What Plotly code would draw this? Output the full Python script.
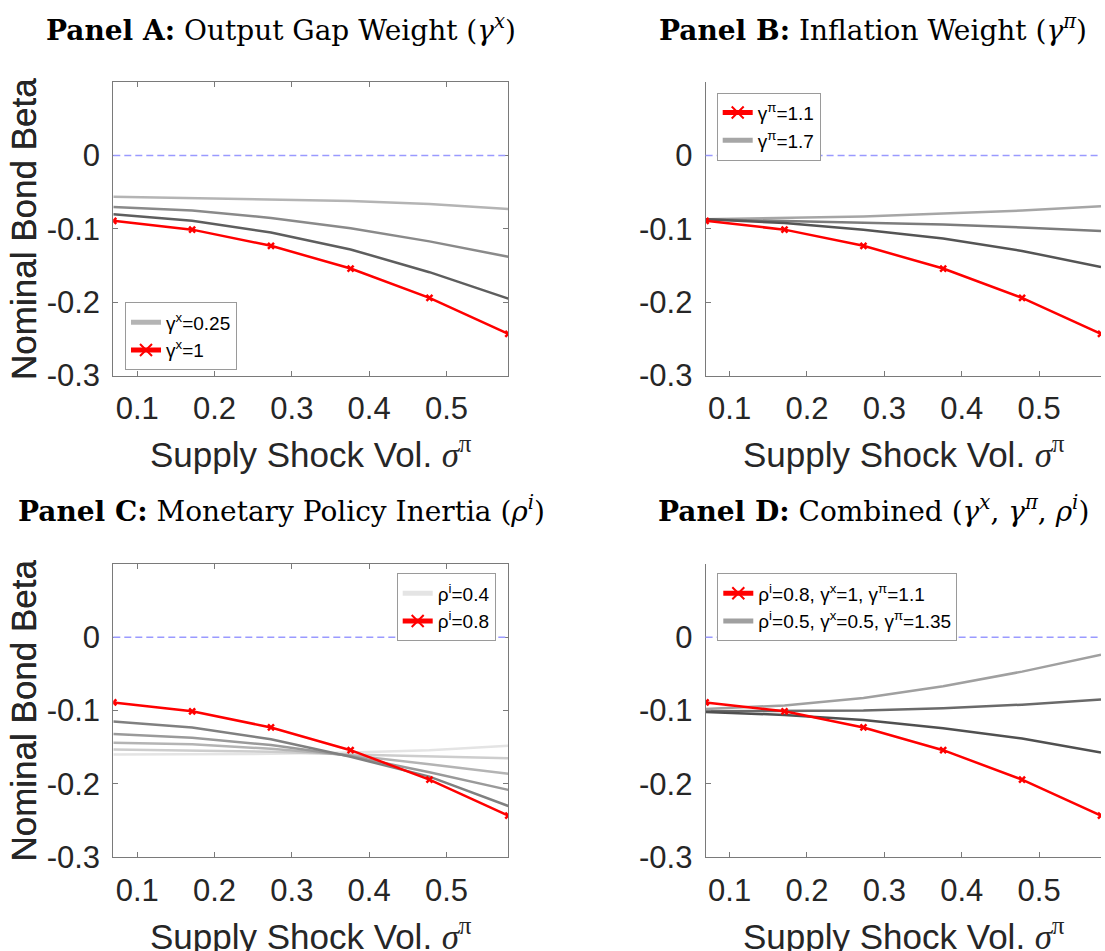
import plotly.graph_objects as go
from plotly.subplots import make_subplots

# Supply shock volatility grid (x axis shared by all panels)
sigma_pi = [0.069, 0.171, 0.273, 0.376, 0.478, 0.58]

# Baseline calibration: rho_i=0.8, gamma_x=1, gamma_pi=1.1
beta_base = [-0.089, -0.101, -0.123, -0.154, -0.194, -0.243]

# Panel A: output gap weight
beta_gx_025 = [-0.056, -0.058, -0.060, -0.062, -0.066, -0.073]
beta_gx_050 = [-0.070, -0.075, -0.085, -0.099, -0.117, -0.138]
beta_gx_075 = [-0.080, -0.089, -0.105, -0.128, -0.159, -0.195]

# Panel B: inflation weight
beta_gp_17 = [-0.087, -0.085, -0.083, -0.079, -0.075, -0.069]
beta_gp_15 = [-0.087, -0.089, -0.091, -0.094, -0.098, -0.103]
beta_gp_13 = [-0.087, -0.092, -0.101, -0.113, -0.130, -0.152]

# Panel C: policy inertia
beta_ri_04 = [-0.160, -0.160, -0.159, -0.157, -0.154, -0.148]
beta_ri_05 = [-0.153, -0.154, -0.156, -0.160, -0.163, -0.165]
beta_ri_06 = [-0.144, -0.146, -0.152, -0.161, -0.173, -0.186]
beta_ri_07 = [-0.132, -0.137, -0.147, -0.162, -0.184, -0.208]
beta_ri_075 = [-0.115, -0.123, -0.139, -0.163, -0.190, -0.230]

# Panel D: combined rule
beta_mix_lo = [-0.098, -0.093, -0.083, -0.067, -0.047, -0.024]
beta_mix_mid = [-0.101, -0.101, -0.100, -0.097, -0.092, -0.085]
beta_mix_hi = [-0.102, -0.106, -0.113, -0.124, -0.138, -0.157]

x_ticks = [0.1, 0.2, 0.3, 0.4, 0.5]
x_ticktext = ["0.1", "0.2", "0.3", "0.4", "0.5"]
y_ticks = [-0.3, -0.2, -0.1, 0.0]
y_ticktext = ["-0.3", "-0.2", "-0.1", "0"]

panel_titles = [
    "<b>Panel A:</b> Output Gap Weight (<i>γ</i><sup><i>x</i></sup>)",
    "<b>Panel B:</b> Inflation Weight (<i>γ</i><sup><i>π</i></sup>)",
    "<b>Panel C:</b> Monetary Policy Inertia (<i>ρ</i><sup><i>i</i></sup>)",
    "<b>Panel D:</b> Combined (<i>γ</i><sup><i>x</i></sup>, <i>γ</i><sup><i>π</i></sup>, <i>ρ</i><sup><i>i</i></sup>)",
]
y_title = "Nominal Bond Beta"
x_title = "Supply Shock Vol. <span style='font-family:Liberation Serif'><i>σ</i><sup>π</sup></span>"

W, H = 1105, 951          # frame used for positioning
FIG_H = 968               # figure height
RED = "#ff0000"
SANS = "Liberation Sans"
SERIF = "DejaVu Serif"

fig = make_subplots(rows=2, cols=2)

# plot-area rectangles in pixels: (left, right, top, bottom)
boxes = {
    (1, 1): (113.3, 508.3, 82.3, 376.0),
    (1, 2): (705.6, 1101.0, 82.3, 376.0),
    (2, 1): (113.3, 508.3, 564.3, 858.3),
    (2, 2): (705.6, 1101.0, 564.3, 858.3),
}
legend_names = {(1, 1): "legend", (1, 2): "legend2", (2, 1): "legend3", (2, 2): "legend4"}
legend_pos = {(1, 1): (125, 302.7), (1, 2): (716.7, 92.7), (2, 1): (396.7, 574.0), (2, 2): (717.3, 574.0)}


def gray_line(y, color, name, row, col, show=False, rank=2):
    fig.add_trace(go.Scatter(
        x=sigma_pi, y=y, mode="lines", name=name,
        line=dict(color=color, width=2.5),
        showlegend=show, legend=legend_names[(row, col)], legendrank=rank,
    ), row=row, col=col)


def red_line(name, row, col, rank):
    fig.add_trace(go.Scatter(
        x=sigma_pi, y=beta_base, mode="lines+markers", name=name,
        line=dict(color=RED, width=2.5),
        marker=dict(symbol="x-thin", size=6, line=dict(color=RED, width=2.5)),
        legend=legend_names[(row, col)], legendrank=rank,
    ), row=row, col=col)


# Panel A
gray_line(beta_gx_025, "#b4b4b4", "γ<sup>x</sup>=0.25", 1, 1, show=True, rank=1)
gray_line(beta_gx_050, "#8a8a8a", "γ<sup>x</sup>=0.5", 1, 1)
gray_line(beta_gx_075, "#5e5e5e", "γ<sup>x</sup>=0.75", 1, 1)
red_line("γ<sup>x</sup>=1", 1, 1, rank=2)

# Panel B
gray_line(beta_gp_17, "#a6a6a6", "γ<sup>π</sup>=1.7", 1, 2, show=True, rank=2)
gray_line(beta_gp_15, "#7c7c7c", "γ<sup>π</sup>=1.5", 1, 2)
gray_line(beta_gp_13, "#555555", "γ<sup>π</sup>=1.3", 1, 2)
red_line("γ<sup>π</sup>=1.1", 1, 2, rank=1)

# Panel C
gray_line(beta_ri_04, "#e4e4e4", "ρ<sup>i</sup>=0.4", 2, 1, show=True, rank=1)
gray_line(beta_ri_05, "#cdcdcd", "ρ<sup>i</sup>=0.5", 2, 1)
gray_line(beta_ri_06, "#b4b4b4", "ρ<sup>i</sup>=0.6", 2, 1)
gray_line(beta_ri_07, "#9a9a9a", "ρ<sup>i</sup>=0.7", 2, 1)
gray_line(beta_ri_075, "#808080", "ρ<sup>i</sup>=0.75", 2, 1)
red_line("ρ<sup>i</sup>=0.8", 2, 1, rank=2)

# Panel D
gray_line(beta_mix_lo, "#a0a0a0", "ρ<sup>i</sup>=0.5, γ<sup>x</sup>=0.5, γ<sup>π</sup>=1.35", 2, 2, show=True, rank=2)
gray_line(beta_mix_mid, "#6a6a6a", "mid", 2, 2)
gray_line(beta_mix_hi, "#505050", "high", 2, 2)
red_line("ρ<sup>i</sup>=0.8, γ<sup>x</sup>=1, γ<sup>π</sup>=1.1", 2, 2, rank=1)

axis_line = "#7a7a7a"
tick_font = dict(family=SANS, size=31, color="#262626")
annotations = []
layout_extra = {}

for (row, col), (l, r, t, b) in boxes.items():
    boxed = col == 1
    fig.update_xaxes(
        domain=[l / W, r / W], range=[sigma_pi[0], sigma_pi[-1]],
        tickvals=x_ticks, ticktext=x_ticktext, tickfont=tick_font,
        ticks="inside", ticklen=5, tickcolor=axis_line, tickwidth=1,
        showline=True, linecolor=axis_line, linewidth=1,
        mirror="ticks" if boxed else False,
        showgrid=False, zeroline=False, ticklabelstandoff=5,
        row=row, col=col,
    )
    fig.update_yaxes(
        domain=[1 - b / H, 1 - t / H], range=[-0.3, 0.1],
        tickvals=y_ticks, ticktext=y_ticktext, tickfont=tick_font,
        ticks="inside", ticklen=5, tickcolor=axis_line, tickwidth=1,
        showline=True, linecolor=axis_line, linewidth=1,
        mirror="ticks" if boxed else False,
        showgrid=False, zeroline=False, ticklabelstandoff=6,
        row=row, col=col,
    )
    # zero reference line
    fig.add_hline(y=0, line=dict(color="#9a9aff", width=1.5, dash="7px,4px"), row=row, col=col)

    cx = (l + r) / 2
    annotations.append(dict(
        text=y_title, textangle=-90, x=24 / W, y=1 - (t + b) / 2 / H,
        xref="paper", yref="paper", showarrow=False, xanchor="center", yanchor="middle",
        font=dict(family=SANS, size=35, color="#262626"),
    ))
    annotations.append(dict(
        text=x_title, x=cx / W, y=1 - (b + 77) / H,
        xref="paper", yref="paper", showarrow=False, xanchor="center", yanchor="middle",
        font=dict(family=SANS, size=35, color="#262626"),
    ))
    title_cx = 281 if col == 1 else 873
    annotations.append(dict(
        text=panel_titles[(row - 1) * 2 + (col - 1)], x=title_cx / W, y=1 - (t - 54) / H,
        xref="paper", yref="paper", showarrow=False, xanchor="center", yanchor="middle",
        font=dict(family=SERIF, size=28, color="black"),
    ))
    lx, ly = legend_pos[(row, col)]
    layout_extra[legend_names[(row, col)]] = dict(
        x=lx / W, y=1 - ly / H, xanchor="left", yanchor="top",
        xref="paper", yref="paper",
        bgcolor="white", bordercolor="#9a9a9a", borderwidth=1,
        font=dict(family=SANS, size=19, color="black"),
        tracegroupgap=0, itemsizing="constant",
    )

fig.update_layout(
    width=W, height=FIG_H, margin=dict(l=0, r=0, t=0, b=0),
    paper_bgcolor="white", plot_bgcolor="white",
    annotations=annotations, **layout_extra,
)

fig.write_html("out.html")
